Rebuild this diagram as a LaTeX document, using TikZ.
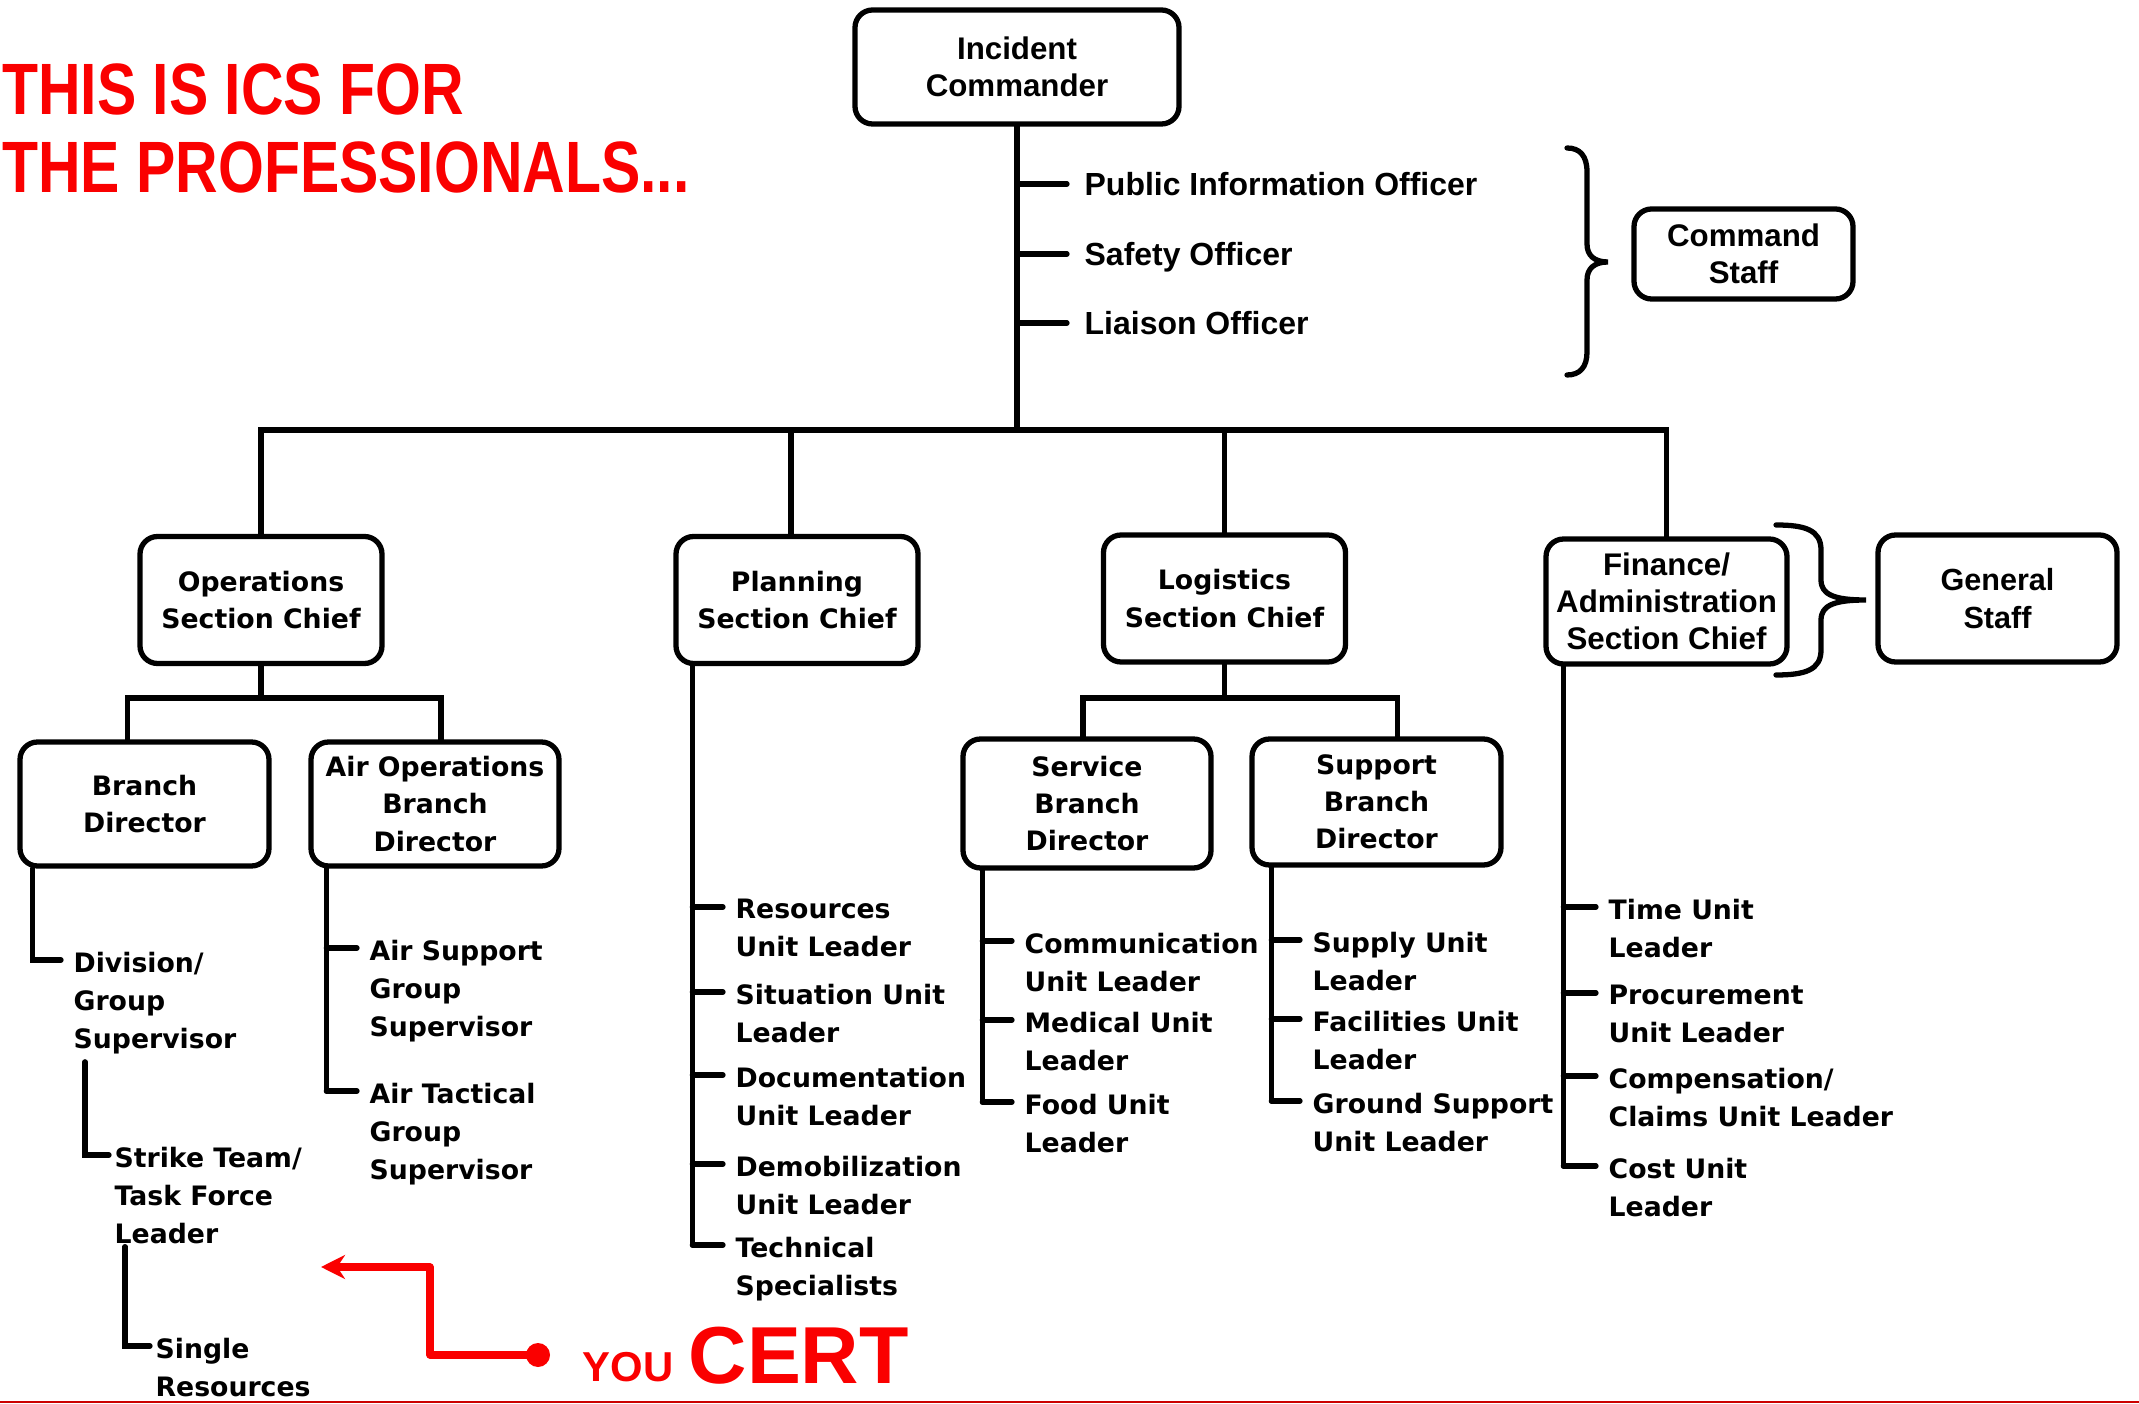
\documentclass[tikz,border=0pt]{standalone}
\usepackage{fontspec}
\setmainfont{Liberation Sans}
\newfontfamily\widesans{DejaVu Sans}
\usetikzlibrary{arrows.meta}
\definecolor{alarm}{RGB}{250,0,0}

\tikzset{
  post/.style={draw,line width=1.5pt,rounded corners=5pt,align=center,inner sep=0pt},
  chief/.style={post,minimum width=2.42cm,minimum height=1.27cm,font=\widesans\bfseries\fontsize{7.6}{10.6}\selectfont},
  staffbox/.style={post,font=\bfseries\fontsize{8.9}{10.6}\selectfont},
  officer/.style={anchor=west,inner xsep=1.5mm,inner ysep=0pt,text height=6.5pt,text depth=0pt,font=\bfseries\fontsize{9.1}{11}\selectfont},
  leaf/.style={anchor=north west,inner xsep=1mm,inner ysep=0pt,yshift=1.02mm,align=left,font=\widesans\bfseries\fontsize{7.6}{10.8}\selectfont},
  shout/.style={inner sep=0pt,text=alarm,font=\bfseries}
}

\begin{document}
\begin{tikzpicture}[x=1cm,y=-1cm,line width=1.5pt,line cap=round,>={Stealth[length=2.4mm,width=2.4mm]}]
\useasboundingbox (0,0) rectangle (21.39,14.04);

% command level
\node[staffbox,minimum width=3.24cm,minimum height=1.14cm] (ic) at (10.17,0.67) {Incident\\Commander};
\node[officer] (pio) at (10.67,1.84) {Public Information Officer};
\node[officer] (so) at (10.67,2.54) {Safety Officer};
\node[officer] (lo) at (10.67,3.23) {Liaison Officer};
\node[staffbox,minimum width=2.19cm,minimum height=0.90cm] (cs) at (17.435,2.54) {Command\\Staff};

\coordinate (bar) at (ic.south |- 0,4.30);
\draw (ic.south) -- (bar);
\draw (ic.south |- pio.west) -- (pio.west);
\draw (ic.south |- so.west) -- (so.west);
\draw (ic.south |- lo.west) -- (lo.west);
\draw (15.67,1.48) .. controls (15.80,1.48) and (15.87,1.56) .. (15.87,1.72) -- (15.87,2.44)
  .. controls (15.87,2.56) and (15.95,2.62) .. (16.08,2.62)
  .. controls (15.95,2.62) and (15.87,2.68) .. (15.87,2.80) -- (15.87,3.52)
  .. controls (15.87,3.67) and (15.80,3.75) .. (15.67,3.75);

% sections
\node[chief] (ops) at (2.61,6.0) {Operations\\Section Chief};
\node[chief] (pl) at (7.97,6.0) {Planning\\Section Chief};
\node[chief] (lg) at (12.245,5.985) {Logistics\\Section Chief};
\node[staffbox,minimum width=2.41cm,minimum height=1.25cm] (fin) at (16.665,6.015) {Finance/\\Administration\\Section Chief};
\node[staffbox,minimum width=2.39cm,minimum height=1.27cm,font=\bfseries\fontsize{8.7}{10.6}\selectfont] (gs) at (19.975,5.985) {General\\Staff};

\draw (ops.north) |- (bar) -| (fin.north);
\draw ([xshift=-0.6mm]pl.north) -- ([xshift=-0.6mm]pl.north |- bar);
\draw (lg.north) -- (lg.north |- bar);
\draw (17.76,5.25) .. controls (18.05,5.25) and (18.21,5.30) .. (18.21,5.50) -- (18.21,5.80)
  .. controls (18.21,5.95) and (18.35,6.00) .. (18.66,6.00)
  .. controls (18.35,6.00) and (18.21,6.05) .. (18.21,6.20) -- (18.21,6.50)
  .. controls (18.21,6.70) and (18.05,6.75) .. (17.76,6.75);

% branches
\node[chief,minimum width=2.49cm,minimum height=1.24cm] (bd) at (1.445,8.04) {Branch\\Director};
\node[chief,minimum width=2.48cm,minimum height=1.24cm] (aob) at (4.35,8.04) {Air Operations\\Branch\\Director};
\node[chief,minimum width=2.48cm,minimum height=1.29cm] (svc) at (10.87,8.035) {Service\\Branch\\Director};
\node[chief,minimum width=2.49cm,minimum height=1.26cm] (sup) at (13.765,8.02) {Support\\Branch\\Director};

\coordinate (opsbar) at (ops.south |- 0,6.98);
\draw (ops.south) -- (opsbar);
\draw ([xshift=-1.7mm]bd.north) |- (opsbar) -| ([xshift=0.6mm]aob.north);
\coordinate (lgbar) at (lg.south |- 0,6.98);
\draw (lg.south) -- (lgbar);
\draw ([xshift=-0.4mm]svc.north) |- (lgbar) -| ([xshift=2.1mm]sup.north);

% operations chain
\coordinate (bdsp) at ([xshift=1.5mm]bd.south west);
\node[leaf] (div) at (0.61,9.60) {Division/\\Group\\Supervisor};
\draw (bdsp) |- (div.north west |- 0,9.60);
\node[leaf,inner xsep=0.3mm] (stl) at (1.09,11.55) {Strike Team/\\Task Force\\Leader};
\draw ([xshift=2.4mm,yshift=-0.5mm]div.south west) |- (stl.north west |- 0,11.55);
\node[leaf,inner xsep=0.3mm] (sgl) at (1.50,13.46) {Single\\Resources};
\draw ([xshift=1.6mm]stl.south west) |- (sgl.north west |- 0,13.46);

\coordinate (aobsp) at ([xshift=1.8mm]aob.south west);
\draw (aobsp) -- (aobsp |- 0,10.91);
\foreach \y/\n/\txt in {9.48/asg/{Air Support\\Group\\Supervisor},10.91/atg/{Air Tactical\\Group\\Supervisor}}{
  \node[leaf] (\n) at (3.57,\y) {\txt};
  \draw (aobsp |- 0,\y) -- (\n.north west |- 0,\y);
}

% planning units
\coordinate (plsp) at ([xshift=1.9mm]pl.south west);
\draw (plsp) -- (plsp |- 0,12.45);
\foreach \y/\n/\txt in {9.07/rsc/{Resources\\Unit Leader},9.92/sit/{Situation Unit\\Leader},10.75/doc/{Documentation\\Unit Leader},11.64/dmob/{Demobilization\\Unit Leader},12.45/tech/{Technical\\Specialists}}{
  \node[leaf] (\n) at (7.23,\y) {\txt};
  \draw (plsp |- 0,\y) -- (\n.north west |- 0,\y);
}

% logistics units
\coordinate (svcsp) at ([xshift=2.2mm]svc.south west);
\draw (svcsp) -- (svcsp |- 0,11.02);
\foreach \y/\n/\txt in {9.41/com/{Communication\\Unit Leader},10.20/med/{Medical Unit\\Leader},11.02/food/{Food Unit\\Leader}}{
  \node[leaf] (\n) at (10.12,\y) {\txt};
  \draw (svcsp |- 0,\y) -- (\n.north west |- 0,\y);
}
\coordinate (supsp) at ([xshift=2.2mm]sup.south west);
\draw (supsp) -- (supsp |- 0,11.01);
\foreach \y/\n/\txt in {9.40/sply/{Supply Unit\\Leader},10.19/fac/{Facilities Unit\\Leader},11.01/gsu/{Ground Support\\Unit Leader}}{
  \node[leaf] (\n) at (13.00,\y) {\txt};
  \draw (supsp |- 0,\y) -- (\n.north west |- 0,\y);
}

% finance units
\coordinate (finsp) at ([xshift=2.0mm]fin.south west);
\draw (finsp) -- (finsp |- 0,11.66);
\foreach \y/\n/\txt in {9.07/time/{Time Unit\\Leader},9.93/proc/{Procurement\\Unit Leader},10.76/comp/{Compensation/\\Claims Unit Leader},11.66/cost/{Cost Unit\\Leader}}{
  \node[leaf] (\n) at (15.96,\y) {\txt};
  \draw (finsp |- 0,\y) -- (\n.north west |- 0,\y);
}

% red remarks
\node[shout,anchor=north west,align=left,xscale=0.81,font=\bfseries\fontsize{20.7}{22.1}\selectfont] (motto) at (0,0.61) {THIS IS ICS FOR\\THE PROFESSIONALS...};
\node[shout,anchor=base west,font=\bfseries\fontsize{11.9}{12}\selectfont] (you) at (5.80,13.81) {YOU};
\node[shout,anchor=base west,font=\bfseries\fontsize{23}{24}\selectfont] (cert) at (6.86,13.83) {CERT};
\node[circle,fill=alarm,inner sep=0pt,minimum size=0.24cm] (dot) at (5.38,13.55) {};
\coordinate (youtip) at (3.21,12.67);
\draw[alarm,line width=2pt,line join=round,->] (dot.center) -| (4.30,12.67) -- (youtip);
\draw[red!80!black,line width=0.4pt] (0,14.02) -- (21.39,14.02);
\end{tikzpicture}
\end{document}
